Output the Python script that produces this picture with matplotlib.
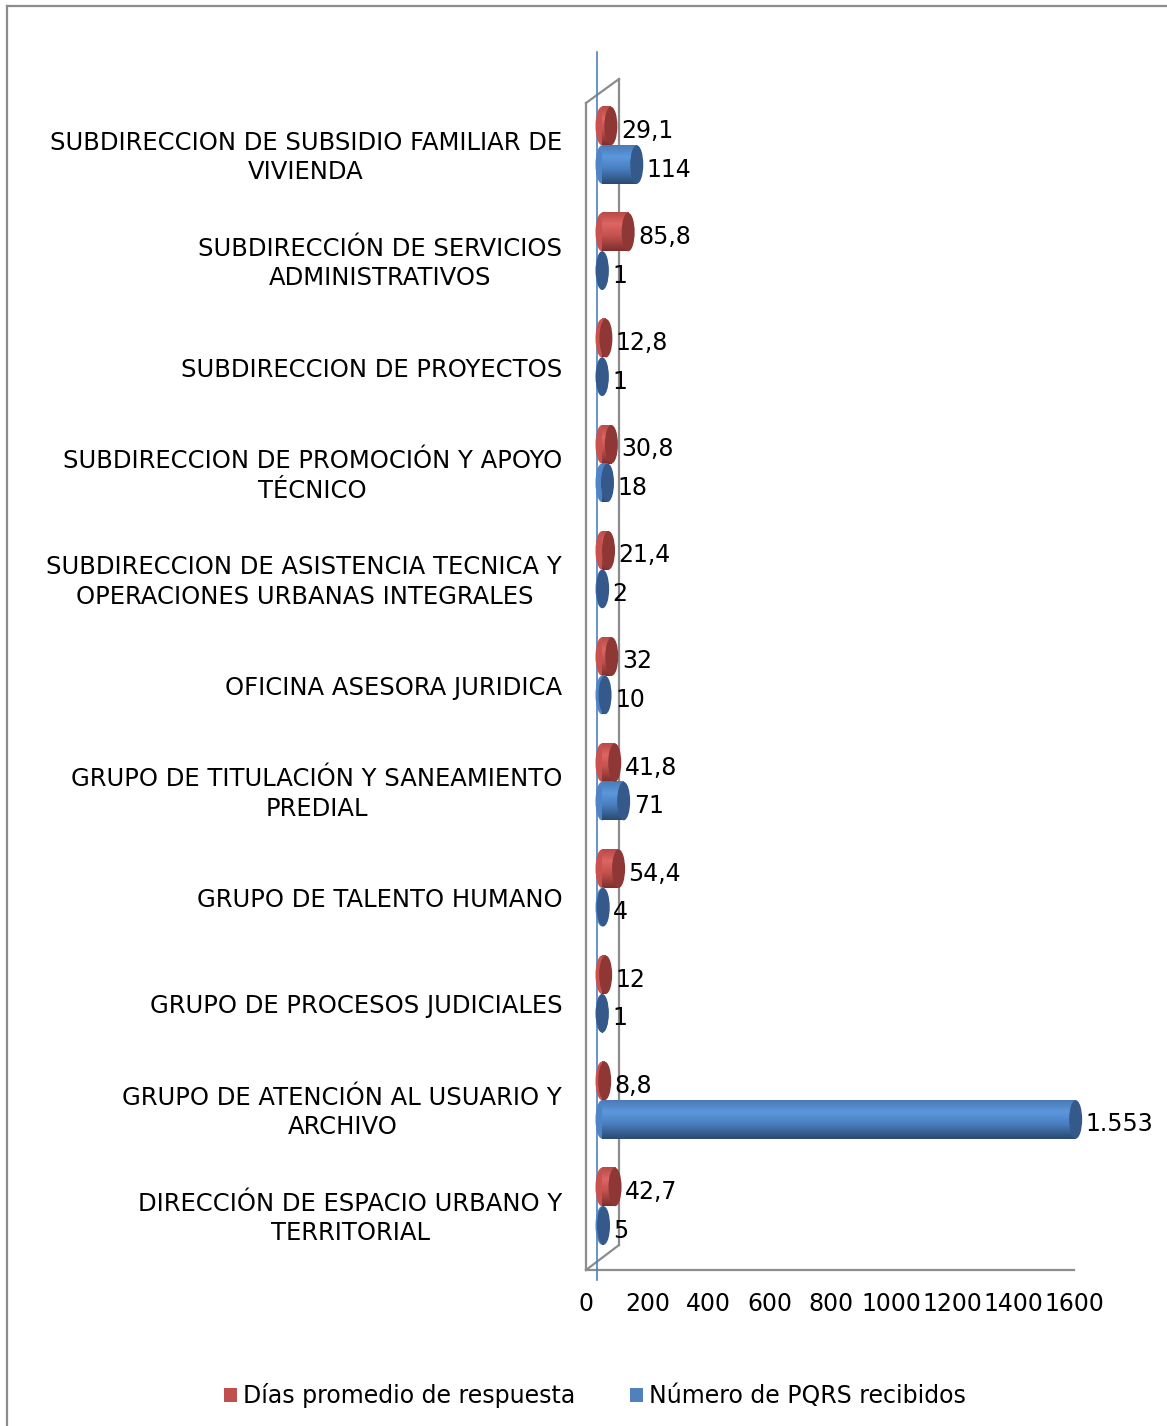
import numpy as np
import matplotlib
matplotlib.use("Agg")
import matplotlib.pyplot as plt
from matplotlib.patches import Ellipse, Patch
from matplotlib.lines import Line2D
from matplotlib.colors import LinearSegmentedColormap
from matplotlib.transforms import ScaledTranslation

plt.rcParams['font.family'] = ['DejaVu Sans']

categories = [
    "SUBDIRECCION DE SUBSIDIO FAMILIAR DE\nVIVIENDA",
    "SUBDIRECCIÓN DE SERVICIOS\nADMINISTRATIVOS",
    "SUBDIRECCION DE PROYECTOS",
    "SUBDIRECCION DE PROMOCIÓN Y APOYO\nTÉCNICO",
    "SUBDIRECCION DE ASISTENCIA TECNICA Y\nOPERACIONES URBANAS INTEGRALES",
    "OFICINA ASESORA JURIDICA",
    "GRUPO DE TITULACIÓN Y SANEAMIENTO\nPREDIAL",
    "GRUPO DE TALENTO HUMANO",
    "GRUPO DE PROCESOS JUDICIALES",
    "GRUPO DE ATENCIÓN AL USUARIO Y\nARCHIVO",
    "DIRECCIÓN DE ESPACIO URBANO Y\nTERRITORIAL",
]
dias_promedio = [29.1, 85.8, 12.8, 30.8, 21.4, 32, 41.8, 54.4, 12, 8.8, 42.7]
numero_pqrs = [114, 1, 1, 18, 2, 10, 71, 4, 1, 1553, 5]
series_names = ["Días promedio de respuesta", "Número de PQRS recibidos"]
xticks = [0, 200, 400, 600, 800, 1000, 1200, 1400, 1600]

W, H, DPI = 1167, 1426, 100
fig = plt.figure(figsize=(W / DPI, H / DPI), dpi=DPI)

# pixel geometry
px_per_unit = 0.305
x0_px = 602.0
ax_left_px, ax_right_px = 590.0, 1100.0
row0_px, row_step_px = 157.5, 106.1
ax_top_px, ax_bot_px = 50.0, 1285.0

ax = fig.add_axes([ax_left_px / W, 1 - ax_bot_px / H,
                   (ax_right_px - ax_left_px) / W, (ax_bot_px - ax_top_px) / H])
xl = ((ax_left_px - x0_px) / px_per_unit, (ax_right_px - x0_px) / px_per_unit)
yl = ((ax_bot_px - row0_px) / row_step_px, (ax_top_px - row0_px) / row_step_px)

FS = 17
FS_CAT = 17.5

red_cmap = LinearSegmentedColormap.from_list(
    "r", [(0, "#B84A47"), (0.3, "#DC6663"), (0.6, "#C4524F"), (1.0, "#7E2F2D")])
blue_cmap = LinearSegmentedColormap.from_list(
    "b", [(0, "#4A7BB7"), (0.3, "#5C97DC"), (0.6, "#4A80C2"), (1.0, "#2A4A72")])
red_cap, blue_cap = "#8E3735", "#34598A"
red_mid, blue_mid = "#C9524F", "#4F85C7"

bar_h = 0.363
cap_w = 13.0 / px_per_unit
offsets = [-0.297, 0.066]
grad = np.linspace(0, 1, 64).reshape(-1, 1)


def fmt(v):
    if float(v) == int(v):
        return f"{int(v):,}".replace(",", ".")
    return f"{v:.1f}".replace(".", ",")


def cylinder(v, yc, cmap, cap_color, mid_color):
    top, bot = yc - bar_h / 2, yc + bar_h / 2
    ax.add_patch(Ellipse((0, yc), cap_w, bar_h, facecolor=mid_color,
                         edgecolor="none", zorder=2))
    ax.imshow(grad, cmap=cmap, extent=(0, v, bot, top), origin="upper",
              aspect="auto", interpolation="bilinear", zorder=3)
    ax.add_patch(Ellipse((v, yc), cap_w, bar_h, facecolor=cap_color,
                         edgecolor="none", zorder=4))
    ax.annotate(fmt(v), (v, yc), xytext=(10, -5), textcoords="offset pixels",
                ha="left", va="center", fontsize=FS, color="black", zorder=5)


for i in range(len(categories)):
    cylinder(dias_promedio[i], i + offsets[0], red_cmap, red_cap, red_mid)
    cylinder(numero_pqrs[i], i + offsets[1], blue_cmap, blue_cap, blue_mid)

ax.set_xlim(*xl)
ax.set_ylim(*yl)

# 3D frame decoration (walls / floor)
front = -16.0 / px_per_unit
back = 17.0 / px_per_unit
top_front = (103 - row0_px) / row_step_px
top_back = (79 - row0_px) / row_step_px
floor_front = (1270 - row0_px) / row_step_px
floor_back = (1245 - row0_px) / row_step_px
gcol = "#8C8C8C"
lw = 1.6
kw = dict(color=gcol, lw=lw, clip_on=False, zorder=1, solid_capstyle="projecting")
ax.plot([front, front], [top_front, floor_front], **kw)
ax.plot([front, back], [top_front, top_back], **kw)
ax.plot([back, back], [top_back, floor_back], **kw)
ax.plot([front, back], [floor_front, floor_back], **kw)
ax.plot([front, front + xticks[-1]], [floor_front, floor_front], **kw)
# category axis line
ax.axvline(-5.0 / px_per_unit, ymin=(ax_bot_px - 1280) / (ax_bot_px - ax_top_px),
           ymax=(ax_bot_px - 52) / (ax_bot_px - ax_top_px), color="#4F81BD",
           lw=1.2, zorder=1.5)

for s in ax.spines.values():
    s.set_visible(False)

ax.set_yticks(range(len(categories)))
ax.set_yticklabels(categories, fontsize=FS_CAT)
yshift = ScaledTranslation(0, -2.0 / DPI, fig.dpi_scale_trans)
for lbl in ax.get_yticklabels():
    lbl.set_multialignment("center")
    lbl.set_linespacing(1.29)
    lbl.set_verticalalignment("center")
    lbl.set_transform(lbl.get_transform() + yshift)
ax.tick_params(axis="y", length=0, pad=20)

ax.set_xticks(xticks)
ax.set_xticklabels([str(t) for t in xticks], fontsize=FS)
ax.tick_params(axis="x", length=0, pad=5)
shift = ScaledTranslation(-15.5 / DPI, 0, fig.dpi_scale_trans)
for lbl in ax.get_xticklabels():
    lbl.set_transform(lbl.get_transform() + shift)

handles = [Patch(facecolor="#C0504D", edgecolor="none"),
           Patch(facecolor="#4F81BD", edgecolor="none")]
fig.legend(handles, series_names, loc="center", bbox_to_anchor=(595 / W, 1 - 1396 / H),
           ncol=2, frameon=False, fontsize=FS, handlelength=0.55, handleheight=0.55,
           handletextpad=0.25, columnspacing=2.3)

# outer chart border
fig.add_artist(Line2D([7 / W, 7 / W], [0, 1 - 6 / H], color="#8C8C8C", lw=1.6))
fig.add_artist(Line2D([7 / W, 1], [1 - 6 / H, 1 - 6 / H], color="#8C8C8C", lw=1.6))

fig.savefig("out.png", dpi=DPI, facecolor="white")
